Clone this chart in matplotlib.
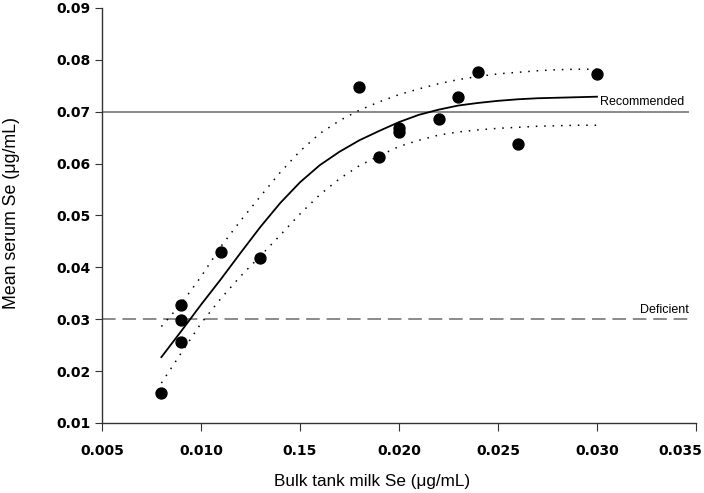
import numpy as np
import matplotlib.pyplot as plt
import matplotlib.transforms as mtransforms

# --- observed herds ---
milk_se = [0.008, 0.009, 0.009, 0.009, 0.011, 0.013, 0.018, 0.019, 0.020, 0.020,
           0.022, 0.023, 0.024, 0.026, 0.030]
serum_se = [0.0158, 0.0328, 0.0299, 0.0256, 0.0429, 0.0418, 0.0748, 0.0612, 0.0669,
            0.0660, 0.0686, 0.0729, 0.0777, 0.0638, 0.0772]

# --- fitted curve and confidence band ---
fit_x = [0.008, 0.009, 0.010, 0.011, 0.012, 0.013, 0.014, 0.015, 0.016, 0.017,
         0.018, 0.019, 0.020, 0.021, 0.022, 0.023, 0.024, 0.025, 0.026, 0.027,
         0.028, 0.029, 0.030]
fit_y = [0.0227, 0.0277, 0.0328, 0.0377, 0.0428, 0.0478, 0.0524, 0.0564, 0.0597, 0.0623,
         0.0645, 0.0663, 0.0680, 0.0694, 0.0704, 0.0712, 0.0717, 0.0721, 0.0724, 0.0726,
         0.0727, 0.0728, 0.0729]
upper_y = [0.0286, 0.0330, 0.0382, 0.0440, 0.0490, 0.0537, 0.0583, 0.0624, 0.0658, 0.0683,
           0.0703, 0.0719, 0.0733, 0.0744, 0.0754, 0.0762, 0.0768, 0.0773, 0.0776, 0.0779,
           0.0781, 0.0782, 0.0782]
lower_y = [0.0177, 0.0235, 0.0292, 0.0340, 0.0383, 0.0422, 0.0462, 0.0503, 0.0540, 0.0571,
           0.0596, 0.0615, 0.0633, 0.0645, 0.0655, 0.0661, 0.0665, 0.0668, 0.0670, 0.0672,
           0.0673, 0.0674, 0.0674]

recommended = 0.07
deficient = 0.03

x_ticks = [0.005, 0.010, 0.015, 0.020, 0.025, 0.030, 0.035]
x_ticklabels = ['0.005', '0.010', '0.15', '0.020', '0.025', '0.030', '0.035']
y_ticks = [0.01, 0.02, 0.03, 0.04, 0.05, 0.06, 0.07, 0.08, 0.09]
y_ticklabels = ['0.01', '0.02', '0.03', '0.04', '0.05', '0.06', '0.07', '0.08', '0.09']

fig = plt.figure(figsize=(7.04, 4.93), dpi=100)
ax = fig.add_axes([0.1449, 0.142, 0.8437, 0.8418])

# reference lines
ax.plot([0.005, 0.0346], [recommended, recommended], color='#8a8a8a', lw=1.4)
ax.plot([0.005, 0.0346], [deficient, deficient], color='#8a8a8a', lw=1.4,
        linestyle=(0, (7, 3.5)))
ax.text(0.0344, recommended + 0.0007, 'Recommended', ha='right', va='bottom',
        fontsize=9, family='Liberation Sans')
ax.text(0.03465, deficient + 0.0007, 'Deficient', ha='right', va='bottom',
        fontsize=9, family='Liberation Sans')

# curve + band
ax.plot(fit_x, fit_y, color='black', lw=1.3)
ax.plot(fit_x, upper_y, color='black', lw=1.1, linestyle=(0, (1, 4.5)))
ax.plot(fit_x, lower_y, color='black', lw=1.1, linestyle=(0, (1, 4.5)))

ax.scatter(milk_se, serum_se, s=62, color='black', zorder=5, clip_on=False)

ax.set_xlim(0.005, 0.035)
ax.set_ylim(0.01, 0.09)
ax.set_xticks(x_ticks)
ax.set_xticklabels(x_ticklabels)
ax.set_yticks(y_ticks)
ax.set_yticklabels(y_ticklabels)
for lab in ax.get_xticklabels() + ax.get_yticklabels():
    lab.set_fontweight('bold')
    lab.set_fontsize(10)
ax.tick_params(axis='x', length=6, pad=9, color='#333333')
ax.tick_params(axis='y', length=5, pad=3, color='#333333')

# last x label is pulled in so it stays inside the picture
last = ax.get_xticklabels()[-1]
last.set_transform(last.get_transform() +
                   mtransforms.ScaledTranslation(-16 / 100, 0, fig.dpi_scale_trans))

ax.spines['top'].set_visible(False)
ax.spines['right'].set_visible(False)
for s in ['left', 'bottom']:
    ax.spines[s].set_color('#333333')
    ax.spines[s].set_linewidth(1.0)

ax.set_xlabel('Bulk tank milk Se (\u03bcg/mL)', fontsize=12.3, family='Liberation Sans')
ax.xaxis.set_label_coords(0.455, -0.122)
ax.set_ylabel('Mean serum Se (\u03bcg/mL)', fontsize=12.8, family='Liberation Sans')
ax.yaxis.set_label_coords(-0.138, 0.505)

fig.savefig('out.png', dpi=100)
